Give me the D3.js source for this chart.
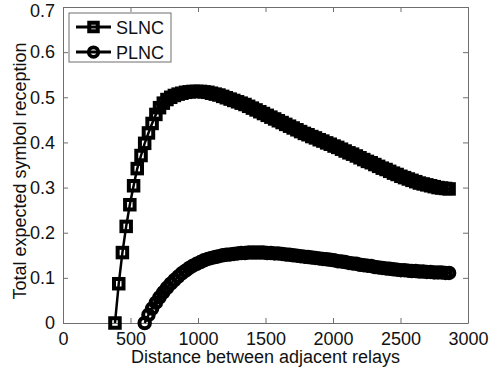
<!DOCTYPE html>
<html>
<head>
<meta charset="utf-8">
<script src="https://cdn.jsdelivr.net/npm/d3@7"></script>
<style>
  body { margin: 0; background: #fff; }
  text { font-family: "Liberation Sans", Arial, Helvetica, sans-serif; fill: #111; }
</style>
</head>
<body>
<div id="chart"></div>
<script>
// distance between adjacent relays (x grid shared by both curves)
var distance = [385, 413, 440, 468, 495, 523, 550, 578, 605, 633, 660, 688, 715, 743, 770, 798,
  825, 853, 880, 908, 935, 963, 990, 1018, 1045, 1073, 1100, 1128, 1155, 1183, 1210, 1238,
  1265, 1293, 1320, 1348, 1375, 1403, 1430, 1458, 1485, 1513, 1540, 1568, 1595, 1623, 1650,
  1678, 1705, 1733, 1760, 1788, 1815, 1843, 1870, 1898, 1925, 1953, 1980, 2008, 2035, 2063,
  2090, 2118, 2145, 2173, 2200, 2228, 2255, 2283, 2310, 2338, 2365, 2393, 2420, 2448, 2475,
  2503, 2530, 2558, 2585, 2613, 2640, 2668, 2695, 2723, 2750, 2778, 2805, 2833, 2860];

var slnc = [0, 0.087, 0.156, 0.214, 0.262, 0.304, 0.342, 0.371, 0.398, 0.421, 0.442, 0.462,
  0.477, 0.487, 0.495, 0.500, 0.504, 0.507, 0.509, 0.511, 0.512, 0.513, 0.513, 0.513, 0.512,
  0.511, 0.509, 0.507, 0.505, 0.502, 0.499, 0.496, 0.493, 0.490, 0.487, 0.484, 0.480, 0.476,
  0.472, 0.468, 0.464, 0.460, 0.456, 0.452, 0.448, 0.444, 0.440, 0.436, 0.432, 0.428, 0.424,
  0.420, 0.417, 0.413, 0.410, 0.406, 0.403, 0.399, 0.396, 0.392, 0.389, 0.385, 0.381, 0.377,
  0.374, 0.370, 0.366, 0.362, 0.358, 0.355, 0.351, 0.347, 0.343, 0.340, 0.336, 0.332, 0.329,
  0.325, 0.322, 0.319, 0.316, 0.313, 0.310, 0.308, 0.306, 0.304, 0.302, 0.300, 0.299, 0.298,
  0.297];

// PLNC starts at distance 605 (9th grid point)
var plncStart = 8;
var plnc = [0, 0.018, 0.032, 0.045, 0.057, 0.068, 0.078, 0.087, 0.095, 0.103, 0.110, 0.116,
  0.122, 0.127, 0.131, 0.135, 0.139, 0.142, 0.144, 0.146, 0.148, 0.150, 0.151, 0.152, 0.153,
  0.154, 0.155, 0.155, 0.156, 0.156, 0.156, 0.156, 0.156, 0.155, 0.155, 0.154, 0.154, 0.153,
  0.152, 0.151, 0.150, 0.149, 0.148, 0.147, 0.146, 0.145, 0.144, 0.143, 0.142, 0.141, 0.140,
  0.139, 0.137, 0.136, 0.135, 0.133, 0.132, 0.131, 0.129, 0.128, 0.127, 0.126, 0.124, 0.123,
  0.122, 0.121, 0.120, 0.119, 0.118, 0.117, 0.117, 0.116, 0.115, 0.115, 0.114, 0.114, 0.113,
  0.113, 0.112, 0.112, 0.112, 0.111, 0.111];

var xTicks = [0, 500, 1000, 1500, 2000, 2500, 3000];
var yTicks = [0, 0.1, 0.2, 0.3, 0.4, 0.5, 0.6, 0.7];
var seriesNames = ["SLNC", "PLNC"];

var width = 490, height = 376;
var margin = { top: 7, right: 22, bottom: 53, left: 63 },
  plotW = width - margin.left - margin.right,
  plotH = height - margin.top - margin.bottom;

var axisColor = "#6e6e6e";

var svg = d3.select("#chart").append("svg")
  .attr("width", width)
  .attr("height", height);

var g = svg.append("g")
  .attr("transform", "translate(" + margin.left + "," + margin.top + ")");

var x = d3.scaleLinear().domain([0, 3000]).range([0, plotW]);
var y = d3.scaleLinear().domain([0, 0.7]).range([plotH, 0]);

// axes (ticks point inward, box on all four sides)
function styleAxis(sel) {
  sel.select(".domain").attr("stroke", axisColor);
  sel.selectAll(".tick line").attr("stroke", axisColor);
  sel.selectAll(".tick text").style("font-size", "18px").attr("fill", "#111");
}

g.append("g")
  .attr("transform", "translate(0," + plotH + ")")
  .call(d3.axisBottom(x).tickValues(xTicks).tickFormat(d3.format("d"))
    .tickSizeInner(-5).tickSizeOuter(0).tickPadding(9))
  .call(styleAxis);

g.append("g")
  .call(d3.axisTop(x).tickValues(xTicks).tickFormat("")
    .tickSizeInner(-5).tickSizeOuter(0))
  .call(styleAxis);

var yAxisG = g.append("g")
  .call(d3.axisLeft(y).tickValues(yTicks).tickFormat(function (d) { return d === 0 ? "0" : d3.format(".1f")(d); })
    .tickSizeInner(-5).tickSizeOuter(0).tickPadding(8))
  .call(styleAxis);

// top label sits a little lower so it stays inside the page
yAxisG.selectAll(".tick text")
  .filter(function (d) { return d === 0.7; })
  .attr("dy", "0.55em");

g.append("g")
  .attr("transform", "translate(" + plotW + ",0)")
  .call(d3.axisRight(y).tickValues(yTicks).tickFormat("")
    .tickSizeInner(-5).tickSizeOuter(0))
  .call(styleAxis);

g.selectAll(".tick text").attr("font-family", "Liberation Sans, Arial, sans-serif");

// axis titles
svg.append("text")
  .attr("x", margin.left + plotW / 2)
  .attr("y", 363)
  .attr("text-anchor", "middle")
  .style("font-size", "18px")
  .text("Distance between adjacent relays");

svg.append("text")
  .attr("transform", "translate(26," + (margin.top + plotH / 2 + 6) + ") rotate(-90)")
  .attr("text-anchor", "middle")
  .style("font-size", "18px")
  .text("Total expected symbol reception");

// series
var slncData = distance.map(function (d, i) { return [d, slnc[i]]; });
var plncData = plnc.map(function (v, i) { return [distance[i + plncStart], v]; });

var line = d3.line()
  .x(function (d) { return x(d[0]); })
  .y(function (d) { return y(d[1]); });

var sq = 9.5, rad = 5.25, mw = 4, cw = 4;

g.append("path")
  .datum(slncData)
  .attr("fill", "none")
  .attr("stroke", "#000")
  .attr("stroke-width", 2.5)
  .attr("d", line);

g.selectAll("rect.slnc")
  .data(slncData)
  .enter().append("rect")
  .attr("class", "slnc")
  .attr("x", function (d) { return x(d[0]) - sq / 2; })
  .attr("y", function (d) { return y(d[1]) - sq / 2; })
  .attr("width", sq)
  .attr("height", sq)
  .attr("fill", "none")
  .attr("stroke", "#000")
  .attr("stroke-width", mw);

g.append("path")
  .datum(plncData)
  .attr("fill", "none")
  .attr("stroke", "#000")
  .attr("stroke-width", 2.5)
  .attr("d", line);

g.selectAll("circle.plnc")
  .data(plncData)
  .enter().append("circle")
  .attr("class", "plnc")
  .attr("cx", function (d) { return x(d[0]); })
  .attr("cy", function (d) { return y(d[1]); })
  .attr("r", rad)
  .attr("fill", "none")
  .attr("stroke", "#000")
  .attr("stroke-width", cw);

// legend
var legend = svg.append("g").attr("transform", "translate(69,13)");
legend.append("rect")
  .attr("width", 102)
  .attr("height", 49)
  .attr("fill", "#fff")
  .attr("stroke", axisColor);

seriesNames.forEach(function (name, i) {
  var ly = 14 + i * 25;
  legend.append("line")
    .attr("x1", 7).attr("x2", 42)
    .attr("y1", ly).attr("y2", ly)
    .attr("stroke", "#000").attr("stroke-width", 3);
  if (i === 0) {
    legend.append("rect")
      .attr("x", 24.5 - 4.25).attr("y", ly - 4.25)
      .attr("width", 8.5).attr("height", 8.5)
      .attr("fill", "none").attr("stroke", "#000").attr("stroke-width", mw);
  } else {
    legend.append("circle")
      .attr("cx", 24.5).attr("cy", ly).attr("r", 4.75)
      .attr("fill", "none").attr("stroke", "#000").attr("stroke-width", 3.75);
  }
  legend.append("text")
    .attr("x", 47)
    .attr("y", ly + 6.5)
    .style("font-size", "18px")
    .text(name);
});
</script>
</body>
</html>
